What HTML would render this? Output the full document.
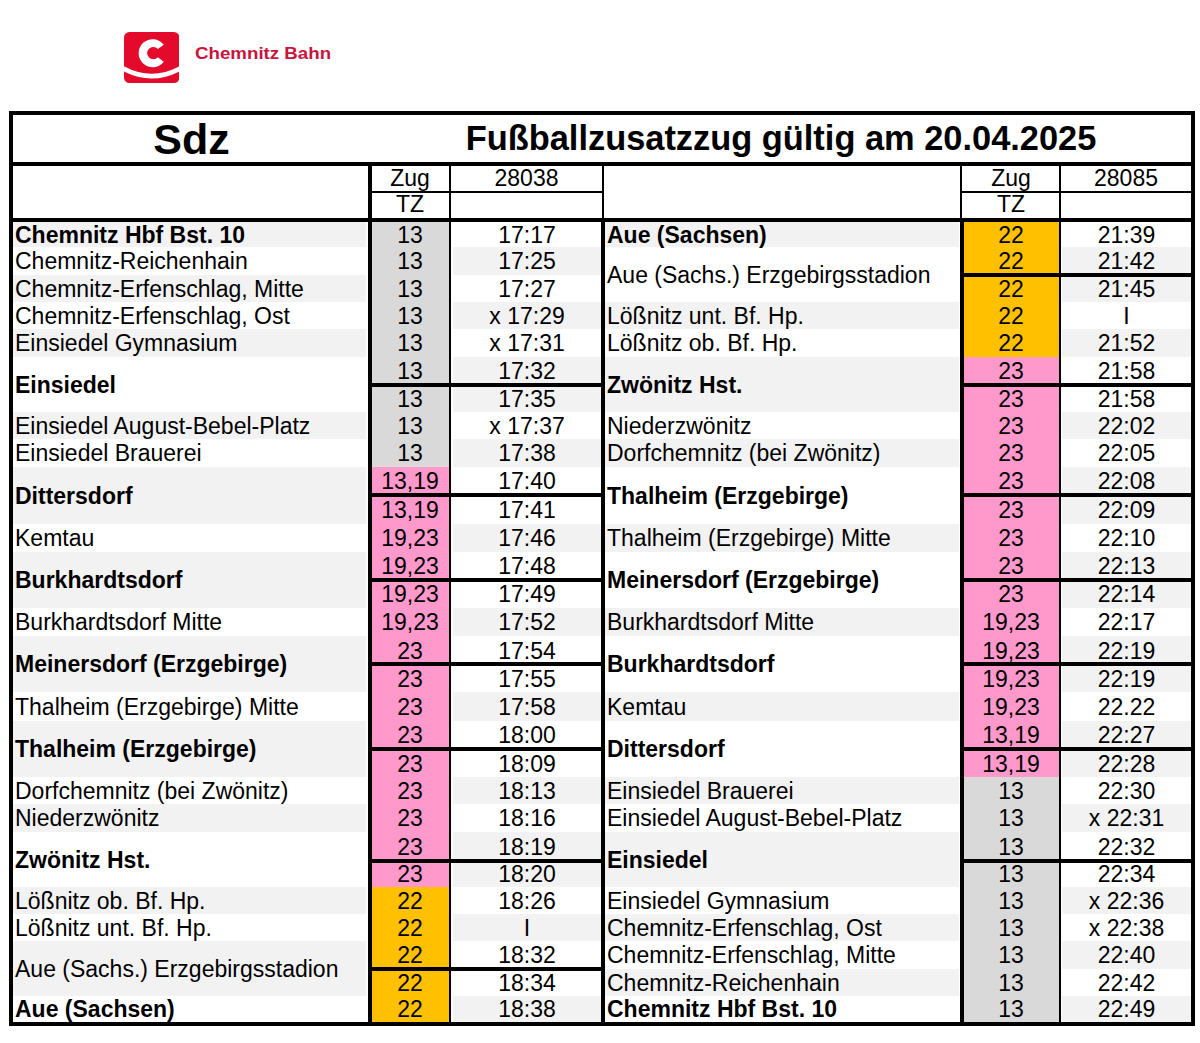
<!DOCTYPE html>
<html><head><meta charset="utf-8"><style>
html,body{margin:0;padding:0;background:#fff;width:1200px;height:1043px;overflow:hidden}
div{position:absolute;box-sizing:border-box}
.t{font-family:"Liberation Sans",sans-serif;color:#000;white-space:nowrap;overflow:visible}
</style></head><body>
<svg style="position:absolute;left:123.8px;top:31.8px" width="55.4" height="51" viewBox="0 0 55.4 51">
<defs><clipPath id="bx"><rect x="0" y="0" width="55.4" height="51" rx="5.5" ry="5.5"/></clipPath></defs>
<g clip-path="url(#bx)">
<rect x="0" y="0" width="55.4" height="51" fill="#e30a2c"/>
<path d="M0 34.3 Q27.7 49.3 55.4 34.3 L55.4 39.5 Q27.7 53.5 0 39.5 Z" fill="#fff"/>
</g>
<path d="M39.78 12.77 A14.0 14.0 0 1 0 39.78 29.63 L33.91 25.25 A6.2 6.2 0 1 1 33.91 16.95 Z" fill="#fff"/>
</svg>
<div class="t" style="left:195px;top:41.5px;width:200px;height:24px;line-height:24px;font-weight:bold;font-size:17px;color:#c8143c;transform:scaleX(1.1);transform-origin:0 0">Chemnitz Bahn</div>
<div style="left:13px;top:222px;width:353px;height:25px;background:#f2f2f2"></div><div class="t" style="left:15px;top:223px;width:351px;height:24px;line-height:24px;text-align:left;font-weight:bold;font-size:23px;">Chemnitz Hbf Bst. 10</div><div style="left:453px;top:247px;width:148px;height:28px;background:#f2f2f2"></div><div class="t" style="left:15px;top:249px;width:351px;height:24px;line-height:24px;text-align:left;font-weight:normal;font-size:23px;">Chemnitz-Reichenhain</div><div style="left:13px;top:275px;width:353px;height:27px;background:#f2f2f2"></div><div class="t" style="left:15px;top:277px;width:351px;height:24px;line-height:24px;text-align:left;font-weight:normal;font-size:23px;">Chemnitz-Erfenschlag, Mitte</div><div style="left:453px;top:302px;width:148px;height:27px;background:#f2f2f2"></div><div class="t" style="left:15px;top:304px;width:351px;height:24px;line-height:24px;text-align:left;font-weight:normal;font-size:23px;">Chemnitz-Erfenschlag, Ost</div><div style="left:13px;top:329px;width:353px;height:28px;background:#f2f2f2"></div><div class="t" style="left:15px;top:331px;width:351px;height:24px;line-height:24px;text-align:left;font-weight:normal;font-size:23px;">Einsiedel Gymnasium</div><div style="left:453px;top:357px;width:148px;height:28px;background:#f2f2f2"></div><div style="left:453px;top:385px;width:148px;height:27px;background:#f2f2f2"></div><div class="t" style="left:15px;top:373px;width:351px;height:24px;line-height:24px;text-align:left;font-weight:bold;font-size:23px;">Einsiedel</div><div style="left:13px;top:412px;width:353px;height:27px;background:#f2f2f2"></div><div class="t" style="left:15px;top:414px;width:351px;height:24px;line-height:24px;text-align:left;font-weight:normal;font-size:23px;">Einsiedel August-Bebel-Platz</div><div style="left:453px;top:439px;width:148px;height:28px;background:#f2f2f2"></div><div class="t" style="left:15px;top:441px;width:351px;height:24px;line-height:24px;text-align:left;font-weight:normal;font-size:23px;">Einsiedel Brauerei</div><div style="left:13px;top:467px;width:353px;height:57px;background:#f2f2f2"></div><div class="t" style="left:15px;top:484px;width:351px;height:24px;line-height:24px;text-align:left;font-weight:bold;font-size:23px;">Dittersdorf</div><div style="left:453px;top:524px;width:148px;height:28px;background:#f2f2f2"></div><div class="t" style="left:15px;top:526px;width:351px;height:24px;line-height:24px;text-align:left;font-weight:normal;font-size:23px;">Kemtau</div><div style="left:13px;top:552px;width:353px;height:56px;background:#f2f2f2"></div><div class="t" style="left:15px;top:568px;width:351px;height:24px;line-height:24px;text-align:left;font-weight:bold;font-size:23px;">Burkhardtsdorf</div><div style="left:453px;top:608px;width:148px;height:28px;background:#f2f2f2"></div><div class="t" style="left:15px;top:610px;width:351px;height:24px;line-height:24px;text-align:left;font-weight:normal;font-size:23px;">Burkhardtsdorf Mitte</div><div style="left:13px;top:636px;width:353px;height:56px;background:#f2f2f2"></div><div class="t" style="left:15px;top:652px;width:351px;height:24px;line-height:24px;text-align:left;font-weight:bold;font-size:23px;">Meinersdorf (Erzgebirge)</div><div style="left:453px;top:692px;width:148px;height:29px;background:#f2f2f2"></div><div class="t" style="left:15px;top:695px;width:351px;height:24px;line-height:24px;text-align:left;font-weight:normal;font-size:23px;">Thalheim (Erzgebirge) Mitte</div><div style="left:13px;top:721px;width:353px;height:56px;background:#f2f2f2"></div><div class="t" style="left:15px;top:737px;width:351px;height:24px;line-height:24px;text-align:left;font-weight:bold;font-size:23px;">Thalheim (Erzgebirge)</div><div style="left:453px;top:777px;width:148px;height:27px;background:#f2f2f2"></div><div class="t" style="left:15px;top:779px;width:351px;height:24px;line-height:24px;text-align:left;font-weight:normal;font-size:23px;">Dorfchemnitz (bei Zwönitz)</div><div style="left:13px;top:804px;width:353px;height:28px;background:#f2f2f2"></div><div class="t" style="left:15px;top:806px;width:351px;height:24px;line-height:24px;text-align:left;font-weight:normal;font-size:23px;">Niederzwönitz</div><div style="left:453px;top:832px;width:148px;height:29px;background:#f2f2f2"></div><div style="left:453px;top:861px;width:148px;height:26px;background:#f2f2f2"></div><div class="t" style="left:15px;top:848px;width:351px;height:24px;line-height:24px;text-align:left;font-weight:bold;font-size:23px;">Zwönitz Hst.</div><div style="left:13px;top:887px;width:353px;height:27px;background:#f2f2f2"></div><div class="t" style="left:15px;top:889px;width:351px;height:24px;line-height:24px;text-align:left;font-weight:normal;font-size:23px;">Lößnitz ob. Bf. Hp.</div><div style="left:453px;top:914px;width:148px;height:27px;background:#f2f2f2"></div><div class="t" style="left:15px;top:916px;width:351px;height:24px;line-height:24px;text-align:left;font-weight:normal;font-size:23px;">Lößnitz unt. Bf. Hp.</div><div style="left:13px;top:941px;width:353px;height:55px;background:#f2f2f2"></div><div class="t" style="left:15px;top:957px;width:351px;height:24px;line-height:24px;text-align:left;font-weight:normal;font-size:23px;">Aue (Sachs.) Erzgebirgsstadion</div><div style="left:453px;top:996px;width:148px;height:26px;background:#f2f2f2"></div><div class="t" style="left:15px;top:997px;width:351px;height:24px;line-height:24px;text-align:left;font-weight:bold;font-size:23px;">Aue (Sachsen)</div><div style="left:371px;top:222px;width:78px;height:25px;background:#d9d9d9"></div><div class="t" style="left:371px;top:223px;width:78px;height:24px;line-height:24px;text-align:center;font-weight:normal;font-size:23px;">13</div><div class="t" style="left:453px;top:223px;width:148px;height:24px;line-height:24px;text-align:center;font-weight:normal;font-size:23px;">17:17</div><div style="left:371px;top:247px;width:78px;height:28px;background:#d9d9d9"></div><div class="t" style="left:371px;top:249px;width:78px;height:24px;line-height:24px;text-align:center;font-weight:normal;font-size:23px;">13</div><div class="t" style="left:453px;top:249px;width:148px;height:24px;line-height:24px;text-align:center;font-weight:normal;font-size:23px;">17:25</div><div style="left:371px;top:275px;width:78px;height:27px;background:#d9d9d9"></div><div class="t" style="left:371px;top:277px;width:78px;height:24px;line-height:24px;text-align:center;font-weight:normal;font-size:23px;">13</div><div class="t" style="left:453px;top:277px;width:148px;height:24px;line-height:24px;text-align:center;font-weight:normal;font-size:23px;">17:27</div><div style="left:371px;top:302px;width:78px;height:27px;background:#d9d9d9"></div><div class="t" style="left:371px;top:304px;width:78px;height:24px;line-height:24px;text-align:center;font-weight:normal;font-size:23px;">13</div><div class="t" style="left:453px;top:304px;width:148px;height:24px;line-height:24px;text-align:center;font-weight:normal;font-size:23px;">x 17:29</div><div style="left:371px;top:329px;width:78px;height:28px;background:#d9d9d9"></div><div class="t" style="left:371px;top:331px;width:78px;height:24px;line-height:24px;text-align:center;font-weight:normal;font-size:23px;">13</div><div class="t" style="left:453px;top:331px;width:148px;height:24px;line-height:24px;text-align:center;font-weight:normal;font-size:23px;">x 17:31</div><div style="left:371px;top:357px;width:78px;height:28px;background:#d9d9d9"></div><div class="t" style="left:371px;top:359px;width:78px;height:24px;line-height:24px;text-align:center;font-weight:normal;font-size:23px;">13</div><div class="t" style="left:453px;top:359px;width:148px;height:24px;line-height:24px;text-align:center;font-weight:normal;font-size:23px;">17:32</div><div style="left:371px;top:385px;width:78px;height:27px;background:#d9d9d9"></div><div class="t" style="left:371px;top:387px;width:78px;height:24px;line-height:24px;text-align:center;font-weight:normal;font-size:23px;">13</div><div class="t" style="left:453px;top:387px;width:148px;height:24px;line-height:24px;text-align:center;font-weight:normal;font-size:23px;">17:35</div><div style="left:371px;top:412px;width:78px;height:27px;background:#d9d9d9"></div><div class="t" style="left:371px;top:414px;width:78px;height:24px;line-height:24px;text-align:center;font-weight:normal;font-size:23px;">13</div><div class="t" style="left:453px;top:414px;width:148px;height:24px;line-height:24px;text-align:center;font-weight:normal;font-size:23px;">x 17:37</div><div style="left:371px;top:439px;width:78px;height:28px;background:#d9d9d9"></div><div class="t" style="left:371px;top:441px;width:78px;height:24px;line-height:24px;text-align:center;font-weight:normal;font-size:23px;">13</div><div class="t" style="left:453px;top:441px;width:148px;height:24px;line-height:24px;text-align:center;font-weight:normal;font-size:23px;">17:38</div><div style="left:371px;top:467px;width:78px;height:28px;background:#ff99cc"></div><div class="t" style="left:371px;top:469px;width:78px;height:24px;line-height:24px;text-align:center;font-weight:normal;font-size:23px;">13,19</div><div class="t" style="left:453px;top:469px;width:148px;height:24px;line-height:24px;text-align:center;font-weight:normal;font-size:23px;">17:40</div><div style="left:371px;top:495px;width:78px;height:29px;background:#ff99cc"></div><div class="t" style="left:371px;top:498px;width:78px;height:24px;line-height:24px;text-align:center;font-weight:normal;font-size:23px;">13,19</div><div class="t" style="left:453px;top:498px;width:148px;height:24px;line-height:24px;text-align:center;font-weight:normal;font-size:23px;">17:41</div><div style="left:371px;top:524px;width:78px;height:28px;background:#ff99cc"></div><div class="t" style="left:371px;top:526px;width:78px;height:24px;line-height:24px;text-align:center;font-weight:normal;font-size:23px;">19,23</div><div class="t" style="left:453px;top:526px;width:148px;height:24px;line-height:24px;text-align:center;font-weight:normal;font-size:23px;">17:46</div><div style="left:371px;top:552px;width:78px;height:28px;background:#ff99cc"></div><div class="t" style="left:371px;top:554px;width:78px;height:24px;line-height:24px;text-align:center;font-weight:normal;font-size:23px;">19,23</div><div class="t" style="left:453px;top:554px;width:148px;height:24px;line-height:24px;text-align:center;font-weight:normal;font-size:23px;">17:48</div><div style="left:371px;top:580px;width:78px;height:28px;background:#ff99cc"></div><div class="t" style="left:371px;top:582px;width:78px;height:24px;line-height:24px;text-align:center;font-weight:normal;font-size:23px;">19,23</div><div class="t" style="left:453px;top:582px;width:148px;height:24px;line-height:24px;text-align:center;font-weight:normal;font-size:23px;">17:49</div><div style="left:371px;top:608px;width:78px;height:28px;background:#ff99cc"></div><div class="t" style="left:371px;top:610px;width:78px;height:24px;line-height:24px;text-align:center;font-weight:normal;font-size:23px;">19,23</div><div class="t" style="left:453px;top:610px;width:148px;height:24px;line-height:24px;text-align:center;font-weight:normal;font-size:23px;">17:52</div><div style="left:371px;top:636px;width:78px;height:28px;background:#ff99cc"></div><div class="t" style="left:371px;top:639px;width:78px;height:24px;line-height:24px;text-align:center;font-weight:normal;font-size:23px;">23</div><div class="t" style="left:453px;top:639px;width:148px;height:24px;line-height:24px;text-align:center;font-weight:normal;font-size:23px;">17:54</div><div style="left:371px;top:664px;width:78px;height:28px;background:#ff99cc"></div><div class="t" style="left:371px;top:667px;width:78px;height:24px;line-height:24px;text-align:center;font-weight:normal;font-size:23px;">23</div><div class="t" style="left:453px;top:667px;width:148px;height:24px;line-height:24px;text-align:center;font-weight:normal;font-size:23px;">17:55</div><div style="left:371px;top:692px;width:78px;height:29px;background:#ff99cc"></div><div class="t" style="left:371px;top:695px;width:78px;height:24px;line-height:24px;text-align:center;font-weight:normal;font-size:23px;">23</div><div class="t" style="left:453px;top:695px;width:148px;height:24px;line-height:24px;text-align:center;font-weight:normal;font-size:23px;">17:58</div><div style="left:371px;top:721px;width:78px;height:28px;background:#ff99cc"></div><div class="t" style="left:371px;top:723px;width:78px;height:24px;line-height:24px;text-align:center;font-weight:normal;font-size:23px;">23</div><div class="t" style="left:453px;top:723px;width:148px;height:24px;line-height:24px;text-align:center;font-weight:normal;font-size:23px;">18:00</div><div style="left:371px;top:749px;width:78px;height:28px;background:#ff99cc"></div><div class="t" style="left:371px;top:752px;width:78px;height:24px;line-height:24px;text-align:center;font-weight:normal;font-size:23px;">23</div><div class="t" style="left:453px;top:752px;width:148px;height:24px;line-height:24px;text-align:center;font-weight:normal;font-size:23px;">18:09</div><div style="left:371px;top:777px;width:78px;height:27px;background:#ff99cc"></div><div class="t" style="left:371px;top:779px;width:78px;height:24px;line-height:24px;text-align:center;font-weight:normal;font-size:23px;">23</div><div class="t" style="left:453px;top:779px;width:148px;height:24px;line-height:24px;text-align:center;font-weight:normal;font-size:23px;">18:13</div><div style="left:371px;top:804px;width:78px;height:28px;background:#ff99cc"></div><div class="t" style="left:371px;top:806px;width:78px;height:24px;line-height:24px;text-align:center;font-weight:normal;font-size:23px;">23</div><div class="t" style="left:453px;top:806px;width:148px;height:24px;line-height:24px;text-align:center;font-weight:normal;font-size:23px;">18:16</div><div style="left:371px;top:832px;width:78px;height:29px;background:#ff99cc"></div><div class="t" style="left:371px;top:835px;width:78px;height:24px;line-height:24px;text-align:center;font-weight:normal;font-size:23px;">23</div><div class="t" style="left:453px;top:835px;width:148px;height:24px;line-height:24px;text-align:center;font-weight:normal;font-size:23px;">18:19</div><div style="left:371px;top:861px;width:78px;height:26px;background:#ff99cc"></div><div class="t" style="left:371px;top:862px;width:78px;height:24px;line-height:24px;text-align:center;font-weight:normal;font-size:23px;">23</div><div class="t" style="left:453px;top:862px;width:148px;height:24px;line-height:24px;text-align:center;font-weight:normal;font-size:23px;">18:20</div><div style="left:371px;top:887px;width:78px;height:27px;background:#ffc000"></div><div class="t" style="left:371px;top:889px;width:78px;height:24px;line-height:24px;text-align:center;font-weight:normal;font-size:23px;">22</div><div class="t" style="left:453px;top:889px;width:148px;height:24px;line-height:24px;text-align:center;font-weight:normal;font-size:23px;">18:26</div><div style="left:371px;top:914px;width:78px;height:27px;background:#ffc000"></div><div class="t" style="left:371px;top:916px;width:78px;height:24px;line-height:24px;text-align:center;font-weight:normal;font-size:23px;">22</div><div class="t" style="left:453px;top:916px;width:148px;height:24px;line-height:24px;text-align:center;font-weight:normal;font-size:23px;">I</div><div style="left:371px;top:941px;width:78px;height:28px;background:#ffc000"></div><div class="t" style="left:371px;top:943px;width:78px;height:24px;line-height:24px;text-align:center;font-weight:normal;font-size:23px;">22</div><div class="t" style="left:453px;top:943px;width:148px;height:24px;line-height:24px;text-align:center;font-weight:normal;font-size:23px;">18:32</div><div style="left:371px;top:969px;width:78px;height:27px;background:#ffc000"></div><div class="t" style="left:371px;top:971px;width:78px;height:24px;line-height:24px;text-align:center;font-weight:normal;font-size:23px;">22</div><div class="t" style="left:453px;top:971px;width:148px;height:24px;line-height:24px;text-align:center;font-weight:normal;font-size:23px;">18:34</div><div style="left:371px;top:996px;width:78px;height:26px;background:#ffc000"></div><div class="t" style="left:371px;top:997px;width:78px;height:24px;line-height:24px;text-align:center;font-weight:normal;font-size:23px;">22</div><div class="t" style="left:453px;top:997px;width:148px;height:24px;line-height:24px;text-align:center;font-weight:normal;font-size:23px;">18:38</div><div style="left:605px;top:222px;width:354px;height:25px;background:#f2f2f2"></div><div class="t" style="left:607px;top:223px;width:352px;height:24px;line-height:24px;text-align:left;font-weight:bold;font-size:23px;">Aue (Sachsen)</div><div style="left:1062px;top:247px;width:129px;height:28px;background:#f2f2f2"></div><div style="left:1062px;top:275px;width:129px;height:27px;background:#f2f2f2"></div><div class="t" style="left:607px;top:263px;width:352px;height:24px;line-height:24px;text-align:left;font-weight:normal;font-size:23px;">Aue (Sachs.) Erzgebirgsstadion</div><div style="left:605px;top:302px;width:354px;height:27px;background:#f2f2f2"></div><div class="t" style="left:607px;top:304px;width:352px;height:24px;line-height:24px;text-align:left;font-weight:normal;font-size:23px;">Lößnitz unt. Bf. Hp.</div><div style="left:1062px;top:329px;width:129px;height:28px;background:#f2f2f2"></div><div class="t" style="left:607px;top:331px;width:352px;height:24px;line-height:24px;text-align:left;font-weight:normal;font-size:23px;">Lößnitz ob. Bf. Hp.</div><div style="left:605px;top:357px;width:354px;height:55px;background:#f2f2f2"></div><div class="t" style="left:607px;top:373px;width:352px;height:24px;line-height:24px;text-align:left;font-weight:bold;font-size:23px;">Zwönitz Hst.</div><div style="left:1062px;top:412px;width:129px;height:27px;background:#f2f2f2"></div><div class="t" style="left:607px;top:414px;width:352px;height:24px;line-height:24px;text-align:left;font-weight:normal;font-size:23px;">Niederzwönitz</div><div style="left:605px;top:439px;width:354px;height:28px;background:#f2f2f2"></div><div class="t" style="left:607px;top:441px;width:352px;height:24px;line-height:24px;text-align:left;font-weight:normal;font-size:23px;">Dorfchemnitz (bei Zwönitz)</div><div style="left:1062px;top:467px;width:129px;height:28px;background:#f2f2f2"></div><div style="left:1062px;top:495px;width:129px;height:29px;background:#f2f2f2"></div><div class="t" style="left:607px;top:484px;width:352px;height:24px;line-height:24px;text-align:left;font-weight:bold;font-size:23px;">Thalheim (Erzgebirge)</div><div style="left:605px;top:524px;width:354px;height:28px;background:#f2f2f2"></div><div class="t" style="left:607px;top:526px;width:352px;height:24px;line-height:24px;text-align:left;font-weight:normal;font-size:23px;">Thalheim (Erzgebirge) Mitte</div><div style="left:1062px;top:552px;width:129px;height:28px;background:#f2f2f2"></div><div style="left:1062px;top:580px;width:129px;height:28px;background:#f2f2f2"></div><div class="t" style="left:607px;top:568px;width:352px;height:24px;line-height:24px;text-align:left;font-weight:bold;font-size:23px;">Meinersdorf (Erzgebirge)</div><div style="left:605px;top:608px;width:354px;height:28px;background:#f2f2f2"></div><div class="t" style="left:607px;top:610px;width:352px;height:24px;line-height:24px;text-align:left;font-weight:normal;font-size:23px;">Burkhardtsdorf Mitte</div><div style="left:1062px;top:636px;width:129px;height:28px;background:#f2f2f2"></div><div style="left:1062px;top:664px;width:129px;height:28px;background:#f2f2f2"></div><div class="t" style="left:607px;top:652px;width:352px;height:24px;line-height:24px;text-align:left;font-weight:bold;font-size:23px;">Burkhardtsdorf</div><div style="left:605px;top:692px;width:354px;height:29px;background:#f2f2f2"></div><div class="t" style="left:607px;top:695px;width:352px;height:24px;line-height:24px;text-align:left;font-weight:normal;font-size:23px;">Kemtau</div><div style="left:1062px;top:721px;width:129px;height:28px;background:#f2f2f2"></div><div style="left:1062px;top:749px;width:129px;height:28px;background:#f2f2f2"></div><div class="t" style="left:607px;top:737px;width:352px;height:24px;line-height:24px;text-align:left;font-weight:bold;font-size:23px;">Dittersdorf</div><div style="left:605px;top:777px;width:354px;height:27px;background:#f2f2f2"></div><div class="t" style="left:607px;top:779px;width:352px;height:24px;line-height:24px;text-align:left;font-weight:normal;font-size:23px;">Einsiedel Brauerei</div><div style="left:1062px;top:804px;width:129px;height:28px;background:#f2f2f2"></div><div class="t" style="left:607px;top:806px;width:352px;height:24px;line-height:24px;text-align:left;font-weight:normal;font-size:23px;">Einsiedel August-Bebel-Platz</div><div style="left:605px;top:832px;width:354px;height:55px;background:#f2f2f2"></div><div class="t" style="left:607px;top:848px;width:352px;height:24px;line-height:24px;text-align:left;font-weight:bold;font-size:23px;">Einsiedel</div><div style="left:1062px;top:887px;width:129px;height:27px;background:#f2f2f2"></div><div class="t" style="left:607px;top:889px;width:352px;height:24px;line-height:24px;text-align:left;font-weight:normal;font-size:23px;">Einsiedel Gymnasium</div><div style="left:605px;top:914px;width:354px;height:27px;background:#f2f2f2"></div><div class="t" style="left:607px;top:916px;width:352px;height:24px;line-height:24px;text-align:left;font-weight:normal;font-size:23px;">Chemnitz-Erfenschlag, Ost</div><div style="left:1062px;top:941px;width:129px;height:28px;background:#f2f2f2"></div><div class="t" style="left:607px;top:943px;width:352px;height:24px;line-height:24px;text-align:left;font-weight:normal;font-size:23px;">Chemnitz-Erfenschlag, Mitte</div><div style="left:605px;top:969px;width:354px;height:27px;background:#f2f2f2"></div><div class="t" style="left:607px;top:971px;width:352px;height:24px;line-height:24px;text-align:left;font-weight:normal;font-size:23px;">Chemnitz-Reichenhain</div><div style="left:1062px;top:996px;width:129px;height:26px;background:#f2f2f2"></div><div class="t" style="left:607px;top:997px;width:352px;height:24px;line-height:24px;text-align:left;font-weight:bold;font-size:23px;">Chemnitz Hbf Bst. 10</div><div style="left:963px;top:222px;width:96px;height:25px;background:#ffc000"></div><div class="t" style="left:963px;top:223px;width:96px;height:24px;line-height:24px;text-align:center;font-weight:normal;font-size:23px;">22</div><div class="t" style="left:1062px;top:223px;width:129px;height:24px;line-height:24px;text-align:center;font-weight:normal;font-size:23px;">21:39</div><div style="left:963px;top:247px;width:96px;height:28px;background:#ffc000"></div><div class="t" style="left:963px;top:249px;width:96px;height:24px;line-height:24px;text-align:center;font-weight:normal;font-size:23px;">22</div><div class="t" style="left:1062px;top:249px;width:129px;height:24px;line-height:24px;text-align:center;font-weight:normal;font-size:23px;">21:42</div><div style="left:963px;top:275px;width:96px;height:27px;background:#ffc000"></div><div class="t" style="left:963px;top:277px;width:96px;height:24px;line-height:24px;text-align:center;font-weight:normal;font-size:23px;">22</div><div class="t" style="left:1062px;top:277px;width:129px;height:24px;line-height:24px;text-align:center;font-weight:normal;font-size:23px;">21:45</div><div style="left:963px;top:302px;width:96px;height:27px;background:#ffc000"></div><div class="t" style="left:963px;top:304px;width:96px;height:24px;line-height:24px;text-align:center;font-weight:normal;font-size:23px;">22</div><div class="t" style="left:1062px;top:304px;width:129px;height:24px;line-height:24px;text-align:center;font-weight:normal;font-size:23px;">I</div><div style="left:963px;top:329px;width:96px;height:28px;background:#ffc000"></div><div class="t" style="left:963px;top:331px;width:96px;height:24px;line-height:24px;text-align:center;font-weight:normal;font-size:23px;">22</div><div class="t" style="left:1062px;top:331px;width:129px;height:24px;line-height:24px;text-align:center;font-weight:normal;font-size:23px;">21:52</div><div style="left:963px;top:357px;width:96px;height:28px;background:#ff99cc"></div><div class="t" style="left:963px;top:359px;width:96px;height:24px;line-height:24px;text-align:center;font-weight:normal;font-size:23px;">23</div><div class="t" style="left:1062px;top:359px;width:129px;height:24px;line-height:24px;text-align:center;font-weight:normal;font-size:23px;">21:58</div><div style="left:963px;top:385px;width:96px;height:27px;background:#ff99cc"></div><div class="t" style="left:963px;top:387px;width:96px;height:24px;line-height:24px;text-align:center;font-weight:normal;font-size:23px;">23</div><div class="t" style="left:1062px;top:387px;width:129px;height:24px;line-height:24px;text-align:center;font-weight:normal;font-size:23px;">21:58</div><div style="left:963px;top:412px;width:96px;height:27px;background:#ff99cc"></div><div class="t" style="left:963px;top:414px;width:96px;height:24px;line-height:24px;text-align:center;font-weight:normal;font-size:23px;">23</div><div class="t" style="left:1062px;top:414px;width:129px;height:24px;line-height:24px;text-align:center;font-weight:normal;font-size:23px;">22:02</div><div style="left:963px;top:439px;width:96px;height:28px;background:#ff99cc"></div><div class="t" style="left:963px;top:441px;width:96px;height:24px;line-height:24px;text-align:center;font-weight:normal;font-size:23px;">23</div><div class="t" style="left:1062px;top:441px;width:129px;height:24px;line-height:24px;text-align:center;font-weight:normal;font-size:23px;">22:05</div><div style="left:963px;top:467px;width:96px;height:28px;background:#ff99cc"></div><div class="t" style="left:963px;top:469px;width:96px;height:24px;line-height:24px;text-align:center;font-weight:normal;font-size:23px;">23</div><div class="t" style="left:1062px;top:469px;width:129px;height:24px;line-height:24px;text-align:center;font-weight:normal;font-size:23px;">22:08</div><div style="left:963px;top:495px;width:96px;height:29px;background:#ff99cc"></div><div class="t" style="left:963px;top:498px;width:96px;height:24px;line-height:24px;text-align:center;font-weight:normal;font-size:23px;">23</div><div class="t" style="left:1062px;top:498px;width:129px;height:24px;line-height:24px;text-align:center;font-weight:normal;font-size:23px;">22:09</div><div style="left:963px;top:524px;width:96px;height:28px;background:#ff99cc"></div><div class="t" style="left:963px;top:526px;width:96px;height:24px;line-height:24px;text-align:center;font-weight:normal;font-size:23px;">23</div><div class="t" style="left:1062px;top:526px;width:129px;height:24px;line-height:24px;text-align:center;font-weight:normal;font-size:23px;">22:10</div><div style="left:963px;top:552px;width:96px;height:28px;background:#ff99cc"></div><div class="t" style="left:963px;top:554px;width:96px;height:24px;line-height:24px;text-align:center;font-weight:normal;font-size:23px;">23</div><div class="t" style="left:1062px;top:554px;width:129px;height:24px;line-height:24px;text-align:center;font-weight:normal;font-size:23px;">22:13</div><div style="left:963px;top:580px;width:96px;height:28px;background:#ff99cc"></div><div class="t" style="left:963px;top:582px;width:96px;height:24px;line-height:24px;text-align:center;font-weight:normal;font-size:23px;">23</div><div class="t" style="left:1062px;top:582px;width:129px;height:24px;line-height:24px;text-align:center;font-weight:normal;font-size:23px;">22:14</div><div style="left:963px;top:608px;width:96px;height:28px;background:#ff99cc"></div><div class="t" style="left:963px;top:610px;width:96px;height:24px;line-height:24px;text-align:center;font-weight:normal;font-size:23px;">19,23</div><div class="t" style="left:1062px;top:610px;width:129px;height:24px;line-height:24px;text-align:center;font-weight:normal;font-size:23px;">22:17</div><div style="left:963px;top:636px;width:96px;height:28px;background:#ff99cc"></div><div class="t" style="left:963px;top:639px;width:96px;height:24px;line-height:24px;text-align:center;font-weight:normal;font-size:23px;">19,23</div><div class="t" style="left:1062px;top:639px;width:129px;height:24px;line-height:24px;text-align:center;font-weight:normal;font-size:23px;">22:19</div><div style="left:963px;top:664px;width:96px;height:28px;background:#ff99cc"></div><div class="t" style="left:963px;top:667px;width:96px;height:24px;line-height:24px;text-align:center;font-weight:normal;font-size:23px;">19,23</div><div class="t" style="left:1062px;top:667px;width:129px;height:24px;line-height:24px;text-align:center;font-weight:normal;font-size:23px;">22:19</div><div style="left:963px;top:692px;width:96px;height:29px;background:#ff99cc"></div><div class="t" style="left:963px;top:695px;width:96px;height:24px;line-height:24px;text-align:center;font-weight:normal;font-size:23px;">19,23</div><div class="t" style="left:1062px;top:695px;width:129px;height:24px;line-height:24px;text-align:center;font-weight:normal;font-size:23px;">22.22</div><div style="left:963px;top:721px;width:96px;height:28px;background:#ff99cc"></div><div class="t" style="left:963px;top:723px;width:96px;height:24px;line-height:24px;text-align:center;font-weight:normal;font-size:23px;">13,19</div><div class="t" style="left:1062px;top:723px;width:129px;height:24px;line-height:24px;text-align:center;font-weight:normal;font-size:23px;">22:27</div><div style="left:963px;top:749px;width:96px;height:28px;background:#ff99cc"></div><div class="t" style="left:963px;top:752px;width:96px;height:24px;line-height:24px;text-align:center;font-weight:normal;font-size:23px;">13,19</div><div class="t" style="left:1062px;top:752px;width:129px;height:24px;line-height:24px;text-align:center;font-weight:normal;font-size:23px;">22:28</div><div style="left:963px;top:777px;width:96px;height:27px;background:#d9d9d9"></div><div class="t" style="left:963px;top:779px;width:96px;height:24px;line-height:24px;text-align:center;font-weight:normal;font-size:23px;">13</div><div class="t" style="left:1062px;top:779px;width:129px;height:24px;line-height:24px;text-align:center;font-weight:normal;font-size:23px;">22:30</div><div style="left:963px;top:804px;width:96px;height:28px;background:#d9d9d9"></div><div class="t" style="left:963px;top:806px;width:96px;height:24px;line-height:24px;text-align:center;font-weight:normal;font-size:23px;">13</div><div class="t" style="left:1062px;top:806px;width:129px;height:24px;line-height:24px;text-align:center;font-weight:normal;font-size:23px;">x 22:31</div><div style="left:963px;top:832px;width:96px;height:29px;background:#d9d9d9"></div><div class="t" style="left:963px;top:835px;width:96px;height:24px;line-height:24px;text-align:center;font-weight:normal;font-size:23px;">13</div><div class="t" style="left:1062px;top:835px;width:129px;height:24px;line-height:24px;text-align:center;font-weight:normal;font-size:23px;">22:32</div><div style="left:963px;top:861px;width:96px;height:26px;background:#d9d9d9"></div><div class="t" style="left:963px;top:862px;width:96px;height:24px;line-height:24px;text-align:center;font-weight:normal;font-size:23px;">13</div><div class="t" style="left:1062px;top:862px;width:129px;height:24px;line-height:24px;text-align:center;font-weight:normal;font-size:23px;">22:34</div><div style="left:963px;top:887px;width:96px;height:27px;background:#d9d9d9"></div><div class="t" style="left:963px;top:889px;width:96px;height:24px;line-height:24px;text-align:center;font-weight:normal;font-size:23px;">13</div><div class="t" style="left:1062px;top:889px;width:129px;height:24px;line-height:24px;text-align:center;font-weight:normal;font-size:23px;">x 22:36</div><div style="left:963px;top:914px;width:96px;height:27px;background:#d9d9d9"></div><div class="t" style="left:963px;top:916px;width:96px;height:24px;line-height:24px;text-align:center;font-weight:normal;font-size:23px;">13</div><div class="t" style="left:1062px;top:916px;width:129px;height:24px;line-height:24px;text-align:center;font-weight:normal;font-size:23px;">x 22:38</div><div style="left:963px;top:941px;width:96px;height:28px;background:#d9d9d9"></div><div class="t" style="left:963px;top:943px;width:96px;height:24px;line-height:24px;text-align:center;font-weight:normal;font-size:23px;">13</div><div class="t" style="left:1062px;top:943px;width:129px;height:24px;line-height:24px;text-align:center;font-weight:normal;font-size:23px;">22:40</div><div style="left:963px;top:969px;width:96px;height:27px;background:#d9d9d9"></div><div class="t" style="left:963px;top:971px;width:96px;height:24px;line-height:24px;text-align:center;font-weight:normal;font-size:23px;">13</div><div class="t" style="left:1062px;top:971px;width:129px;height:24px;line-height:24px;text-align:center;font-weight:normal;font-size:23px;">22:42</div><div style="left:963px;top:996px;width:96px;height:26px;background:#d9d9d9"></div><div class="t" style="left:963px;top:997px;width:96px;height:24px;line-height:24px;text-align:center;font-weight:normal;font-size:23px;">13</div><div class="t" style="left:1062px;top:997px;width:129px;height:24px;line-height:24px;text-align:center;font-weight:normal;font-size:23px;">22:49</div>
<div style="left:9px;top:111px;width:1186px;height:3.5px;background:#000"></div><div style="left:9px;top:1022px;width:1186px;height:4px;background:#000"></div><div style="left:9px;top:111px;width:4px;height:915px;background:#000"></div><div style="left:1191px;top:111px;width:4px;height:915px;background:#000"></div><div style="left:9px;top:162px;width:1186px;height:4px;background:#000"></div><div style="left:9px;top:218px;width:1186px;height:4px;background:#000"></div><div style="left:370px;top:191px;width:232px;height:2px;background:#000"></div><div style="left:961px;top:191px;width:230px;height:2px;background:#000"></div><div style="left:368px;top:162px;width:3.5px;height:864px;background:#000"></div><div style="left:449px;top:162px;width:2px;height:864px;background:#000"></div><div style="left:602px;top:162px;width:2px;height:60px;background:#000"></div><div style="left:601px;top:218px;width:4px;height:808px;background:#000"></div><div style="left:960px;top:162px;width:2.4px;height:60px;background:#000"></div><div style="left:960px;top:218px;width:4px;height:808px;background:#000"></div><div style="left:1059px;top:162px;width:2px;height:864px;background:#000"></div><div style="left:368px;top:383px;width:237px;height:4px;background:#000"></div><div style="left:368px;top:493px;width:237px;height:4px;background:#000"></div><div style="left:368px;top:578px;width:237px;height:4px;background:#000"></div><div style="left:368px;top:662px;width:237px;height:4px;background:#000"></div><div style="left:368px;top:747px;width:237px;height:4px;background:#000"></div><div style="left:368px;top:859px;width:237px;height:4px;background:#000"></div><div style="left:368px;top:967px;width:237px;height:4px;background:#000"></div><div style="left:960px;top:273px;width:235px;height:4px;background:#000"></div><div style="left:960px;top:383px;width:235px;height:4px;background:#000"></div><div style="left:960px;top:493px;width:235px;height:4px;background:#000"></div><div style="left:960px;top:578px;width:235px;height:4px;background:#000"></div><div style="left:960px;top:662px;width:235px;height:4px;background:#000"></div><div style="left:960px;top:747px;width:235px;height:4px;background:#000"></div><div style="left:960px;top:859px;width:235px;height:4px;background:#000"></div>
<div class="t" style="left:13.5px;top:115px;width:356px;height:48px;line-height:48px;text-align:center;font-weight:bold;font-size:43px;">Sdz</div><div class="t" style="left:371px;top:114px;width:820px;height:48px;line-height:48px;text-align:center;font-weight:bold;font-size:34.4px;">Fußballzusatzzug gültig am 20.04.2025</div><div class="t" style="left:371px;top:166px;width:78px;height:25px;line-height:25px;text-align:center;font-weight:normal;font-size:23px;">Zug</div><div class="t" style="left:451px;top:166px;width:151px;height:25px;line-height:25px;text-align:center;font-weight:normal;font-size:23px;">28038</div><div class="t" style="left:371px;top:191.5px;width:78px;height:24px;line-height:24px;text-align:center;font-weight:normal;font-size:23px;">TZ</div><div class="t" style="left:963px;top:166px;width:96px;height:25px;line-height:25px;text-align:center;font-weight:normal;font-size:23px;">Zug</div><div class="t" style="left:1061px;top:166px;width:130px;height:25px;line-height:25px;text-align:center;font-weight:normal;font-size:23px;">28085</div><div class="t" style="left:963px;top:191.5px;width:96px;height:24px;line-height:24px;text-align:center;font-weight:normal;font-size:23px;">TZ</div>
</body></html>
